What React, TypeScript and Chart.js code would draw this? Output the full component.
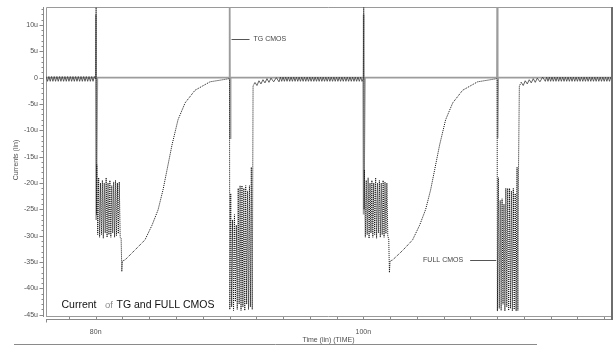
import React, { useEffect, useRef } from "react";
import { Chart, registerables } from "chart.js";

Chart.register(...registerables);

// ---------- axis ranges ----------
const xMinNs = 76.285;
const xMaxNs = 118.51;
const yMinUA = -45.43;
const yMaxUA = 13.4;

// ---------- tick labels ----------
const yTickValues = [10, 5, 0, -5, -10, -15, -20, -25, -30, -35, -40, -45];
const yTickLabels = ["10u", "5u", "0", "-5u", "-10u", "-15u", "-20u", "-25u", "-30u", "-35u", "-40u", "-45u"];
const xMinorTickValues = [78, 80, 82, 84, 86, 88, 90, 92, 94, 96, 98, 100, 102, 104, 106, 108, 110, 112, 114, 116, 118];
const xLabelValues = [80, 100];
const xLabelTexts = ["80n", "100n"];

// time windows (ns) where FULL CMOS sits in its small ripple band around 0
const rippleWindowsNs = [[76.2, 80.0], [91.85, 99.95], [111.75, 118.7]];

// ---------- FULL CMOS (dotted black) ----------
const fullPreTime = [76.3, 76.4, 76.5, 76.6, 76.7, 76.8, 76.9, 77.0, 77.1, 77.2, 77.3, 77.4, 77.5, 77.6, 77.7, 77.8, 77.9, 78.0, 78.1,
  78.2, 78.3, 78.4, 78.5, 78.6, 78.7, 78.8, 78.9, 79.0, 79.1, 79.2, 79.3, 79.4, 79.5, 79.6, 79.7, 79.8, 79.9];
const fullPreCur = [0.2, -0.7, 0.2, -0.7, 0.2, -0.7, 0.2, -0.7, 0.2, -0.7, 0.2, -0.7, 0.2, -0.7, 0.2, -0.7, 0.2, -0.7, 0.2,
  -0.7, 0.2, -0.7, 0.2, -0.7, 0.2, -0.7, 0.2, -0.7, 0.2, -0.7, 0.2, -0.7, 0.2, -0.7, 0.2, -0.7, 0.2];

const fullEv1Time = [80.0, 80.03, 80.06, 80.08, 80.15, 80.22, 80.29, 80.36, 80.43, 80.5, 80.57, 80.64, 80.71, 80.78, 80.85, 80.92, 80.99, 81.06, 81.13, 81.2, 81.27, 81.34, 81.41, 81.48, 81.55, 81.62, 81.69, 81.76, 81.83, 81.9,
  81.95, 82.0, 82.19, 82.94, 83.68, 84.21, 84.66, 85.03, 85.33, 85.7, 86.15, 86.68, 87.42, 88.54, 89.98];
const fullEv1Cur = [-0.2, 13.3, -26, -16.5, -29.8, -19, -30.3, -20, -29.8, -19.5, -30.5, -20, -29.5, -19, -30.3, -20, -29.8, -19.5, -30.3, -20.5, -29.5, -19.8, -30.3, -19.5, -30, -20, -29.6, -19.8, -30.3, -30.5,
  -36.8, -34.8, -34.6, -32.7, -30.8, -28.0, -25.1, -21.3, -17.5, -12.8, -8.0, -4.8, -2.4, -0.8, -0.2];

const fullEv2Time = [90.0, 90.02, 90.09, 90.16, 90.23, 90.3, 90.37, 90.44, 90.51, 90.58, 90.65, 90.72, 90.79, 90.86, 90.93, 91.0, 91.07, 91.14, 91.21, 91.28, 91.35, 91.42, 91.49, 91.56, 91.63, 91.7, 91.76,
  91.9, 92.05, 92.2, 92.35, 92.5, 92.65, 92.8, 92.95, 93.1, 93.3, 93.5, 93.7];
const fullEv2Cur = [-0.3, -44.0, -22, -43.5, -27, -44.2, -26, -42.5, -28, -44, -21, -43, -20.5, -44.2, -20.5, -43.5, -21, -44.2, -20.5, -43, -21.5, -44, -20.5, -43.5, -17, -44, -1.6,
  -0.9, -1.5, -0.6, -1.2, -0.4, -1.0, -0.2, -0.9, -0.1, -0.8, 0.0, -0.8];

const fullBand2Time = [93.8, 93.9, 94.0, 94.1, 94.2, 94.3, 94.4, 94.5, 94.6, 94.7, 94.8, 94.9, 95.0, 95.1, 95.2, 95.3, 95.4, 95.5, 95.6, 95.7, 95.8,
  95.9, 96.0, 96.1, 96.2, 96.3, 96.4, 96.5, 96.6, 96.7, 96.8, 96.9, 97.0, 97.1, 97.2, 97.3, 97.4, 97.5, 97.6, 97.7, 97.8,
  97.9, 98.0, 98.1, 98.2, 98.3, 98.4, 98.5, 98.6, 98.7, 98.8, 98.9, 99.0, 99.1, 99.2, 99.3, 99.4, 99.5, 99.6, 99.7, 99.8, 99.9];
const fullBand2Cur = [0.1, -0.7, 0.1, -0.7, 0.1, -0.7, 0.1, -0.7, 0.1, -0.7, 0.1, -0.7, 0.1, -0.7, 0.1, -0.7, 0.1, -0.7, 0.1, -0.7, 0.1,
  -0.7, 0.1, -0.7, 0.1, -0.7, 0.1, -0.7, 0.1, -0.7, 0.1, -0.7, 0.1, -0.7, 0.1, -0.7, 0.1, -0.7, 0.1, -0.7, 0.1,
  -0.7, 0.1, -0.7, 0.1, -0.7, 0.1, -0.7, 0.1, -0.7, 0.1, -0.7, 0.1, -0.7, 0.1, -0.7, 0.1, -0.7, 0.1, -0.7, 0.1, -0.7];

const fullEv3Time = [100.0, 100.03, 100.06, 100.08, 100.15, 100.22, 100.29, 100.36, 100.43, 100.5, 100.57, 100.64, 100.71, 100.78, 100.85, 100.92, 100.99, 101.06, 101.13, 101.2, 101.27, 101.34, 101.41, 101.48, 101.55, 101.62, 101.69, 101.76, 101.83, 101.9,
  101.95, 102.0, 102.19, 102.94, 103.68, 104.21, 104.66, 105.03, 105.33, 105.7, 106.15, 106.68, 107.42, 108.54, 109.98];
const fullEv3Cur = [-0.2, 13.3, -25, -17.5, -30.3, -19.5, -29.8, -19, -30.5, -20, -29.5, -19.5, -30.3, -20, -29.8, -19, -30.5, -20, -29.5, -19.5, -30.3, -20, -29.8, -19.5, -30.3, -19.8, -29.6, -20, -30.2, -30.5,
  -37, -34.8, -34.6, -32.8, -30.8, -28.0, -25.0, -21.3, -17.5, -12.8, -8.0, -4.8, -2.4, -0.8, -0.2];

const fullEv4Time = [110.0, 110.02, 110.09, 110.16, 110.23, 110.3, 110.37, 110.44, 110.51, 110.58, 110.65, 110.72, 110.79, 110.86, 110.93, 111.0, 111.07, 111.14, 111.21, 111.28, 111.35, 111.42, 111.49, 111.55, 111.6, 111.66,
  111.8, 111.95, 112.1, 112.25, 112.4, 112.55, 112.7, 112.85, 113.0, 113.2, 113.4, 113.6];
const fullEv4Cur = [-0.3, -44.3, -19, -43.8, -23.3, -44.2, -23, -43, -24, -44.3, -21, -43.5, -21, -44.2, -21, -43.8, -21.5, -44.3, -21, -44, -22, -44.3, -17, -44.2, -17, -1.6,
  -0.9, -1.5, -0.6, -1.2, -0.4, -1.0, -0.2, -0.9, -0.1, -0.8, 0.1, -0.7];

const fullBand4Time = [113.7, 113.8, 113.9, 114.0, 114.1, 114.2, 114.3, 114.4, 114.5, 114.6, 114.7, 114.8, 114.9, 115.0, 115.1, 115.2, 115.3,
  115.4, 115.5, 115.6, 115.7, 115.8, 115.9, 116.0, 116.1, 116.2, 116.3, 116.4, 116.5, 116.6, 116.7, 116.8, 116.9, 117.0,
  117.1, 117.2, 117.3, 117.4, 117.5, 117.6, 117.7, 117.8, 117.9, 118.0, 118.1, 118.2, 118.3, 118.4, 118.5, 118.6];
const fullBand4Cur = [0.1, -0.7, 0.1, -0.7, 0.1, -0.7, 0.1, -0.7, 0.1, -0.7, 0.1, -0.7, 0.1, -0.7, 0.1, -0.7, 0.1,
  -0.7, 0.1, -0.7, 0.1, -0.7, 0.1, -0.7, 0.1, -0.7, 0.1, -0.7, 0.1, -0.7, 0.1, -0.7, 0.1, -0.7,
  0.1, -0.7, 0.1, -0.7, 0.1, -0.7, 0.1, -0.7, 0.1, -0.7, 0.1, -0.7, 0.1, -0.7, 0.1, -0.7];

// ---------- TG CMOS (solid gray) ----------
const tgTime = [76.3, 79.98, 80.01, 80.04, 80.12, 89.99, 90.01, 90.04, 90.08, 99.99, 100.01, 100.04, 100.12, 109.99, 110.01, 110.04, 110.08, 118.6];
const tgCur = [0, 0, 12.0, -27, 0, 0, 20, -11.5, 0, 0, 12.0, -26, 0, 0, 20, -11.5, 0, 0];

// ---------- annotation anchors (data coords) ----------
const tgLabelAnchor = { t: 90, i: 7.4 };
const fullLabelAnchor = { t: 110, i: -34.6 };

const FONT = "'Liberation Sans', Arial, sans-serif";

function toPoints(ts: number[], is: number[]) {
  return ts.map((t, k) => ({ x: t, y: is[k] }));
}

const spiceDecor = {
  id: "spiceDecor",
  beforeDatasetsDraw(chart: any) {
    const { ctx, chartArea: a, scales } = chart;
    const x = scales.x;
    const y = scales.y;
    ctx.save();
    ctx.strokeStyle = "#9a9a9a";
    ctx.lineWidth = 1;
    ctx.beginPath();
    ctx.moveTo(a.left + 0.5, a.bottom);
    ctx.lineTo(a.left + 0.5, a.top + 0.5);
    ctx.lineTo(a.right, a.top + 0.5);
    ctx.stroke();
    ctx.beginPath();
    ctx.moveTo(a.left, a.bottom - 0.5);
    ctx.lineTo(a.right, a.bottom - 0.5);
    ctx.stroke();

    // y axis
    const ax = a.left - 2.5;
    ctx.strokeStyle = "#8a8a8a";
    ctx.beginPath();
    ctx.moveTo(ax, a.top);
    ctx.lineTo(ax, a.bottom);
    ctx.stroke();
    ctx.beginPath();
    for (let v = -45; v <= 13; v++) {
      const py = Math.round(y.getPixelForValue(v)) + 0.5;
      const major = v % 5 === 0;
      ctx.moveTo(ax - (major ? 4 : 2), py);
      ctx.lineTo(ax, py);
    }
    ctx.stroke();
    ctx.fillStyle = "#505050";
    ctx.font = `7px ${FONT}`;
    ctx.textAlign = "right";
    ctx.textBaseline = "middle";
    yTickValues.forEach((v, k) => {
      ctx.fillText(yTickLabels[k], 38, y.getPixelForValue(v));
    });
    ctx.save();
    ctx.translate(16, 160);
    ctx.rotate(-Math.PI / 2);
    ctx.textAlign = "center";
    ctx.fillText("Currents (lin)", 0, 0);
    ctx.restore();

    // x axis
    const axy = a.bottom + 2.5;
    ctx.strokeStyle = "#8a8a8a";
    ctx.beginPath();
    ctx.moveTo(a.left, axy);
    ctx.lineTo(a.right + 1, axy);
    ctx.stroke();
    ctx.beginPath();
    ctx.moveTo(a.left + 0.5, axy);
    ctx.lineTo(a.left + 0.5, axy + 3);
    xMinorTickValues.forEach((v) => {
      const px = Math.round(x.getPixelForValue(v)) + 0.5;
      ctx.moveTo(px, axy - 2.5);
      ctx.lineTo(px, axy);
    });
    ctx.stroke();
    ctx.textAlign = "center";
    ctx.textBaseline = "middle";
    xLabelValues.forEach((v, k) => {
      ctx.fillText(xLabelTexts[k], x.getPixelForValue(v), 332);
    });
    ctx.fillText("Time (lin) (TIME)", (a.left + a.right) / 2, 340);

    ctx.strokeStyle = "#8a8a8a";
    ctx.beginPath();
    ctx.moveTo(14, 344.5);
    ctx.lineTo(537, 344.5);
    ctx.stroke();
    ctx.restore();
  },
  afterDatasetsDraw(chart: any) {
    const { ctx, chartArea: a, scales } = chart;
    const x = scales.x;
    const y = scales.y;
    ctx.save();
    ctx.strokeStyle = "#6e6e6e";
    ctx.lineWidth = 2;
    ctx.beginPath();
    ctx.moveTo(a.right + 1, a.top);
    ctx.lineTo(a.right + 1, a.bottom + 3);
    ctx.stroke();

    ctx.lineWidth = 1;
    ctx.strokeStyle = "#555";
    const tgX = x.getPixelForValue(tgLabelAnchor.t);
    const tgY = Math.round(y.getPixelForValue(tgLabelAnchor.i)) + 0.5;
    ctx.beginPath();
    ctx.moveTo(tgX + 2, tgY);
    ctx.lineTo(tgX + 20, tgY);
    ctx.stroke();
    ctx.fillStyle = "#444";
    ctx.font = `7px ${FONT}`;
    ctx.textAlign = "left";
    ctx.textBaseline = "middle";
    ctx.fillText("TG CMOS", tgX + 24, tgY);

    const fX = x.getPixelForValue(fullLabelAnchor.t);
    const fY = Math.round(y.getPixelForValue(fullLabelAnchor.i)) + 0.5;
    ctx.beginPath();
    ctx.moveTo(fX - 27, fY);
    ctx.lineTo(fX - 1, fY);
    ctx.stroke();
    ctx.textAlign = "right";
    ctx.fillText("FULL CMOS", fX - 34, fY);

    ctx.textAlign = "left";
    ctx.textBaseline = "alphabetic";
    ctx.fillStyle = "#111";
    ctx.font = `10.5px ${FONT}`;
    ctx.fillText("Current", 61.5, 307.5);
    ctx.fillStyle = "#8a8a8a";
    ctx.font = `9.5px ${FONT}`;
    ctx.fillText("of", 105, 307.5);
    ctx.fillStyle = "#111";
    ctx.font = `10.5px ${FONT}`;
    ctx.fillText("TG and FULL CMOS", 116.5, 307.5);
    ctx.restore();
  },
};

export default function App() {
  const canvasRef = useRef<HTMLCanvasElement | null>(null);

  useEffect(() => {
    const canvas = canvasRef.current;
    if (!canvas) return;
    const fullPoints = [
      ...toPoints(fullPreTime, fullPreCur),
      ...toPoints(fullEv1Time, fullEv1Cur),
      ...toPoints(fullEv2Time, fullEv2Cur),
      ...toPoints(fullBand2Time, fullBand2Cur),
      ...toPoints(fullEv3Time, fullEv3Cur),
      ...toPoints(fullEv4Time, fullEv4Cur),
      ...toPoints(fullBand4Time, fullBand4Cur),
    ];
    const tgPoints = toPoints(tgTime, tgCur);
    const inBand = (c: any) =>
      rippleWindowsNs.some(([lo, hi]) => c.p0.parsed.x >= lo && c.p1.parsed.x <= hi);

    const chart = new Chart(canvas, {
      type: "line",
      data: {
        datasets: [
          {
            label: "FULL CMOS",
            data: fullPoints,
            borderColor: "#111",
            borderWidth: 1,
            borderDash: [1, 1],
            pointRadius: 0,
            tension: 0,
            fill: false,
            segment: {
              borderDash: (c: any) => (inBand(c) ? [] : [1, 1]),
              borderColor: (c: any) => (inBand(c) ? "#3a3a3a" : "#111"),
              borderWidth: (c: any) => (inBand(c) ? 0.8 : 1),
            },
          },
          {
            label: "TG CMOS",
            data: tgPoints,
            borderColor: "#9c9c9c",
            borderWidth: 1.7,
            pointRadius: 0,
            tension: 0,
            fill: false,
          },
        ],
      },
      options: {
        animation: false,
        responsive: false,
        devicePixelRatio: 1,
        events: [],
        layout: { padding: { left: 46, right: 2, top: 7, bottom: 30 } },
        plugins: { legend: { display: false }, tooltip: { enabled: false } },
        scales: {
          x: { type: "linear", min: xMinNs, max: xMaxNs, display: false },
          y: { type: "linear", min: yMinUA, max: yMaxUA, display: false },
        },
      },
      plugins: [spiceDecor],
    });
    return () => chart.destroy();
  }, []);

  return (
    <div style={{ position: "fixed", left: 0, top: 0, width: 613, height: 347, background: "#fff" }}>
      <canvas ref={canvasRef} width={613} height={347} style={{ display: "block" }} />
    </div>
  );
}
